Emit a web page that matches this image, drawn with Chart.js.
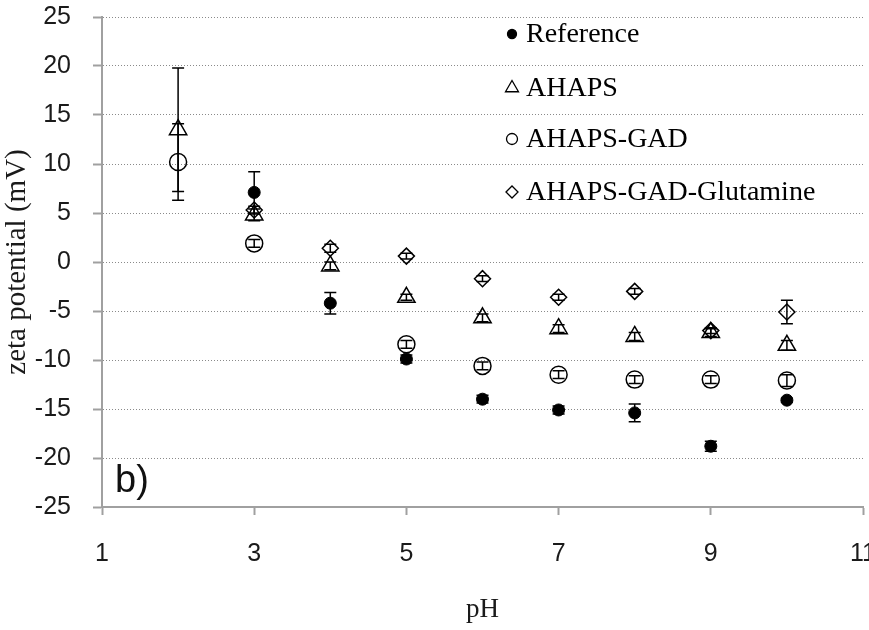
<!DOCTYPE html>
<html>
<head>
<meta charset="utf-8">
<script src="https://cdn.jsdelivr.net/npm/chart.js@4"></script>
<style>
  html, body { margin: 0; padding: 0; background: #fff; }
</style>
</head>
<body>
<canvas id="zetaChart" width="869" height="630"></canvas>
<script>
// pH values where measurements were taken
const phValues = [2, 3, 4, 5, 6, 7, 8, 9, 10];
const seriesNames = ["Reference", "AHAPS", "AHAPS-GAD", "AHAPS-GAD-Glutamine"];

// zeta potential (mV), null = no point
const referenceZeta = [null, 7.1, -4.2, -9.9, -14.0, -15.1, -15.4, -18.8, -14.1];
const ahapsZeta     = [13.5, 4.8, -0.4, -3.6, -5.7, -6.8, -7.6, -7.2, -8.5];
const gadZeta       = [10.2, 1.9, null, -8.4, -10.6, -11.5, -12.0, -12.0, -12.1];
const glutZeta      = [null, 5.3, 1.4, 0.6, -1.7, -3.6, -3.0, -7.0, -5.1];

// error bars (+/- mV)
const referenceErr = [null, 2.1, 1.1, 0.4, 0.4, 0.4, 0.9, 0.5, 0.2];
const ahapsErr     = [6.3, 0.6, 0.4, 0.3, 0.4, 0.4, 0.4, 0.4, 0.5];
const gadErr       = [3.9, 0.4, null, 0.4, 0.4, 0.4, 0.4, 0.4, 0.6];
const glutErr      = [null, 0.4, 0.4, 0.3, 0.3, 0.3, 0.3, 0.3, 1.2];

const xTicks = [1, 3, 5, 7, 9, 11];
const yTicks = [25, 20, 15, 10, 5, 0, -5, -10, -15, -20, -25];

function toPoints(vals, errs) {
    return phValues
        .map((p, i) => ({ x: p, y: vals[i], err: errs[i] }))
        .filter(pt => pt.y !== null);
}

// draws the vertical error bars with caps
const errorBars = {
    id: "errorBars",
    afterDatasetsDraw(chart) {
        const ctx = chart.ctx;
        const x = chart.scales.x;
        const y = chart.scales.y;
        ctx.save();
        ctx.strokeStyle = "#000";
        ctx.lineWidth = 1.5;
        chart.data.datasets.forEach(ds => {
            ds.data.forEach(pt => {
                if (!pt.err) return;
                const px = x.getPixelForValue(pt.x);
                const top = y.getPixelForValue(pt.y + pt.err);
                const bot = y.getPixelForValue(pt.y - pt.err);
                ctx.beginPath();
                ctx.moveTo(px, top);
                ctx.lineTo(px, bot);
                ctx.moveTo(px - 6, top);
                ctx.lineTo(px + 6, top);
                ctx.moveTo(px - 6, bot);
                ctx.lineTo(px + 6, bot);
                ctx.stroke();
            });
        });
        ctx.restore();
    }
};

// legend inside the plot + the "b)" panel letter
const legendAndLabel = {
    id: "legendAndLabel",
    afterDraw(chart) {
        const ctx = chart.ctx;
        const legendY = [34, 88, 139, 192];
        const legendR = [4.5, 7.5, 5.5, 6];
        ctx.save();
        chart.data.datasets.forEach((ds, i) => {
            ctx.fillStyle = ds.backgroundColor;
            ctx.strokeStyle = "#000";
            ctx.lineWidth = 1.3;
            Chart.helpers.drawPoint(ctx, {
                pointStyle: ds.pointStyle, radius: legendR[i], rotation: 0, borderWidth: 1.3
            }, 512, legendY[i]);
            ctx.fillStyle = "#000";
            ctx.font = '28px "Liberation Serif"';
            ctx.textAlign = "left";
            ctx.textBaseline = "middle";
            ctx.fillText(ds.label, 526, legendY[i] + 1);
        });
        ctx.font = '38px "Liberation Sans"';
        ctx.textBaseline = "alphabetic";
        ctx.fillStyle = "#111";
        ctx.fillText("b)", 115, 492);
        ctx.restore();
    }
};

const noPadding = () => ({ left: 0, top: 0, right: 0, bottom: 0 });

const ctx = document.getElementById("zetaChart").getContext("2d");
new Chart(ctx, {
    type: "scatter",
    data: {
        datasets: [{
            label: seriesNames[0],
            data: toPoints(referenceZeta, referenceErr),
            pointStyle: "circle",
            pointRadius: 6,
            backgroundColor: "#000",
            borderColor: "#000",
            borderWidth: 1
        }, {
            label: seriesNames[1],
            data: toPoints(ahapsZeta, ahapsErr),
            pointStyle: "triangle",
            pointRadius: 10,
            backgroundColor: "rgba(0,0,0,0)",
            borderColor: "#000",
            borderWidth: 1.5
        }, {
            label: seriesNames[2],
            data: toPoints(gadZeta, gadErr),
            pointStyle: "circle",
            pointRadius: 8.5,
            backgroundColor: "rgba(0,0,0,0)",
            borderColor: "#000",
            borderWidth: 1.5
        }, {
            label: seriesNames[3],
            data: toPoints(glutZeta, glutErr),
            pointStyle: "rectRot",
            pointRadius: 8,
            backgroundColor: "rgba(0,0,0,0)",
            borderColor: "#000",
            borderWidth: 1.5
        }]
    },
    options: {
        responsive: false,
        animation: false,
        devicePixelRatio: 1,
        events: [],
        layout: { autoPadding: false, padding: { top: 17, right: 6, left: 0, bottom: 0 } },
        plugins: {
            legend: { display: false },
            tooltip: { enabled: false }
        },
        scales: {
            x: {
                type: "linear",
                min: 1,
                max: 11,
                afterBuildTicks: scale => { scale.ticks = xTicks.map(v => ({ value: v })); },
                afterFit: scale => {
                    scale.height = 123;
                    scale.paddingLeft = 0;
                    scale.paddingRight = 0;
                    scale.getPadding = noPadding;
                },
                border: { color: "#a0a0a0", width: 2 },
                grid: {
                    drawOnChartArea: false,
                    drawTicks: true,
                    tickLength: 8,
                    tickColor: "#a0a0a0",
                    tickWidth: 2
                },
                ticks: {
                    autoSkip: false,
                    maxRotation: 0,
                    padding: 24,
                    color: "#1a1a1a",
                    font: { family: "Liberation Sans", size: 25 }
                },
                title: {
                    display: true,
                    text: "pH",
                    color: "#1a1a1a",
                    font: { family: "Liberation Serif", size: 27 },
                    padding: { top: 0, bottom: 4 }
                }
            },
            y: {
                type: "linear",
                min: -25,
                max: 25,
                afterBuildTicks: scale => { scale.ticks = yTicks.map(v => ({ value: v })); },
                afterFit: scale => {
                    scale.width = 102;
                    scale.paddingTop = 0;
                    scale.paddingBottom = 0;
                    scale.getPadding = noPadding;
                },
                border: { color: "#a0a0a0", width: 2, dash: [1, 2] },
                grid: {
                    color: "#8a8a8a",
                    lineWidth: 1,
                    tickBorderDash: [],
                    tickLength: 9,
                    tickColor: "#a0a0a0",
                    tickWidth: 2
                },
                ticks: {
                    autoSkip: false,
                    padding: 22,
                    color: "#1a1a1a",
                    font: { family: "Liberation Sans", size: 25 }
                },
                title: {
                    display: true,
                    text: "zeta potential (mV)",
                    color: "#1a1a1a",
                    font: { family: "Liberation Serif", size: 29 },
                    padding: { top: 0, bottom: 0 }
                }
            }
        }
    },
    plugins: [errorBars, legendAndLabel]
});
</script>
</body>
</html>
